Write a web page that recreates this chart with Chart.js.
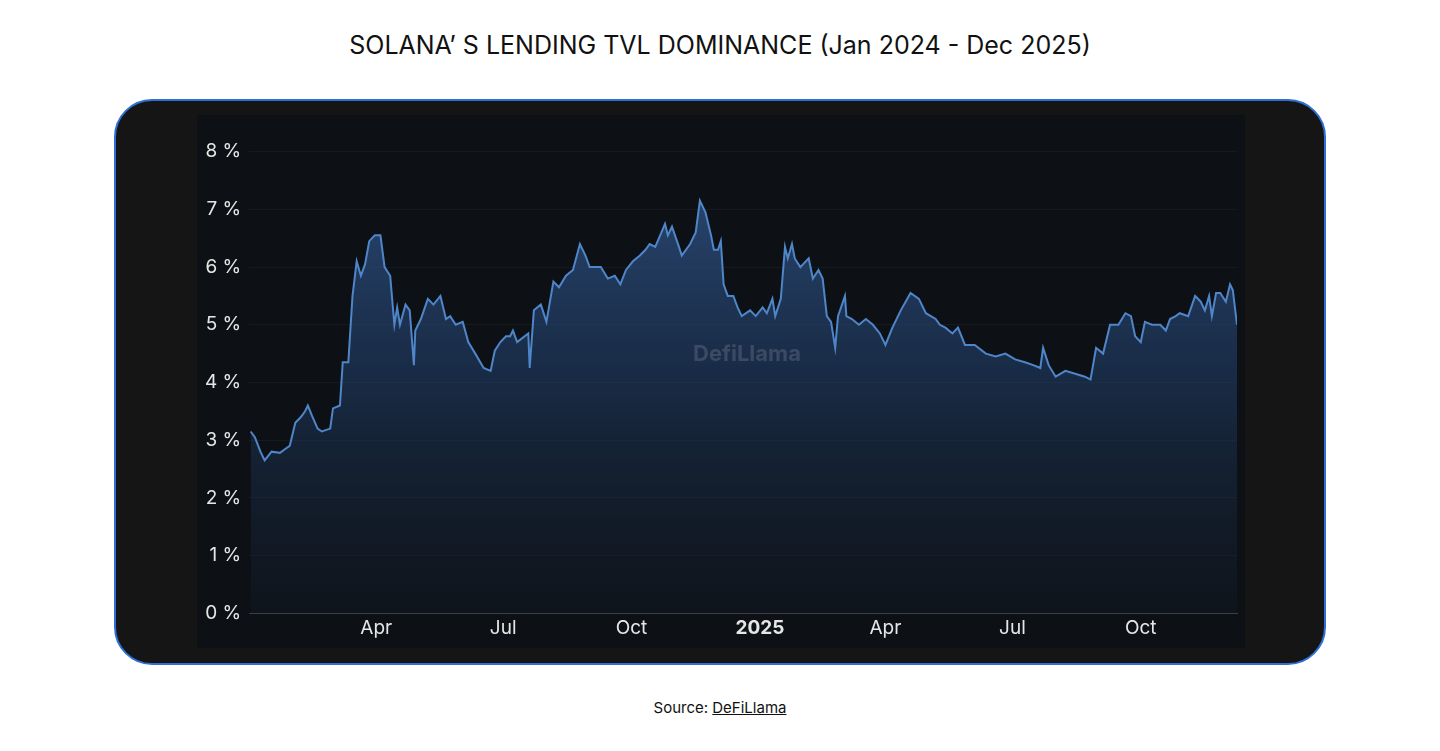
<!DOCTYPE html>
<html>
<head>
<meta charset="utf-8">
<script src="https://cdn.jsdelivr.net/npm/chart.js@4"></script>
<style>
  body { margin: 0; background: #fff; font-family: Inter, "Noto Sans", sans-serif; }
  #title { position: absolute; top: 30px; left: 0; width: 1440px; text-align: center; font-size: 25px; color: #111; }
  #box { position: absolute; left: 114px; top: 99px; width: 1208px; height: 562px; background: #151515; border: 2px solid #2f6fd6; border-radius: 38px; }
  #panel { position: absolute; left: 197px; top: 115px; width: 1048px; height: 533px; background: #0d1115; }
  #mark { position: absolute; left: 693px; top: 340px; font-size: 22px; font-weight: 700; color: rgba(120,130,145,0.35); }
  #source { position: absolute; top: 698px; left: 0; width: 1440px; text-align: center; font-size: 15px; color: #111; }
  #source span { text-decoration: underline; }
</style>
</head>
<body>
<div id="title">SOLANA’ S LENDING TVL DOMINANCE (Jan 2024 - Dec 2025)</div>
<div id="box"></div>
<div id="panel"><canvas id="chart" width="1048" height="533"></canvas></div>
<div id="mark">DefiLlama</div>
<div id="source">Source: <span>DeFiLlama</span></div>
<script>
// days since 1 Jan 2024
var days = [1,4,8,11,16,22,26,29,33,37,40,42,45,49,52,58,60,65,67,71,74,77,80,83,86,90,94,97,101,104,106,108,112,115,118,119,123,128,132,137,141,144,148,153,157,162,168,173,176,180,184,187,189,192,200,201,204,209,213,218,222,227,232,237,241,244,252,257,262,266,270,275,280,284,287,291,298,300,303,308,310,316,320,323,327,331,333,336,338,340,343,347,350,353,359,363,368,371,375,377,381,384,386,389,391,395,401,404,408,411,414,417,420,422,427,428,432,437,442,447,452,456,461,467,474,480,485,492,495,499,504,508,513,520,528,535,542,549,556,562,567,569,573,578,585,592,599,603,607,612,617,623,628,632,635,639,642,647,653,657,660,664,667,673,678,682,685,688,690,693,696,700,703,705,708];
var dominance = [3.15,3.05,2.8,2.65,2.8,2.78,2.85,2.9,3.3,3.4,3.5,3.6,3.42,3.2,3.15,3.2,3.55,3.6,4.35,4.35,5.5,6.1,5.85,6.05,6.45,6.55,6.55,6.0,5.85,5.0,5.3,5.0,5.35,5.25,4.3,4.9,5.1,5.45,5.35,5.5,5.1,5.15,5.0,5.05,4.7,4.5,4.25,4.2,4.55,4.7,4.8,4.8,4.9,4.7,4.85,4.25,5.25,5.35,5.05,5.75,5.65,5.85,5.95,6.4,6.2,6.0,6.0,5.8,5.85,5.7,5.95,6.1,6.2,6.3,6.4,6.35,6.75,6.55,6.7,6.35,6.2,6.4,6.6,7.15,6.95,6.55,6.3,6.3,6.45,5.7,5.5,5.5,5.3,5.15,5.25,5.15,5.3,5.2,5.45,5.15,5.45,6.35,6.15,6.4,6.15,6.0,6.15,5.8,5.95,5.8,5.15,5.05,4.6,5.15,5.5,5.15,5.1,5.0,5.1,5.0,4.85,4.65,4.95,5.25,5.55,5.45,5.2,5.1,5.0,4.95,4.85,4.95,4.65,4.65,4.5,4.45,4.5,4.4,4.35,4.3,4.25,4.6,4.3,4.1,4.2,4.15,4.1,4.05,4.6,4.5,5.0,5.0,5.2,5.15,4.8,4.7,5.05,5.0,5.0,4.9,5.1,5.15,5.2,5.15,5.5,5.4,5.25,5.5,5.15,5.55,5.55,5.4,5.7,5.6,5.0];
var tickDays = [91, 182, 274, 366, 456, 547, 639];
var tickLabels = ['Apr', 'Jul', 'Oct', '2025', 'Apr', 'Jul', 'Oct'];
var yTicks = [0, 1, 2, 3, 4, 5, 6, 7, 8];

var ctx = document.getElementById('chart');
var points = days.map(function (d, i) { return { x: d, y: dominance[i] }; });

var fillGrad = function (context) {
  var area = context.chart.chartArea;
  if (!area) return 'rgba(60,100,160,0.5)';
  var g = context.chart.ctx.createLinearGradient(0, area.top, 0, area.bottom);
  g.addColorStop(0, 'rgba(58,100,160,0.75)');
  g.addColorStop(0.5, 'rgba(35,65,110,0.55)');
  g.addColorStop(1, 'rgba(20,30,45,0.3)');
  return g;
};

new Chart(ctx, {
  type: 'line',
  data: {
    datasets: [{
      data: points,
      borderColor: '#4f86c9',
      borderWidth: 2,
      backgroundColor: fillGrad,
      fill: 'origin',
      pointRadius: 0,
      tension: 0
    }]
  },
  options: {
    responsive: false,
    animation: false,
    layout: { padding: { top: 10, right: 8, left: 0, bottom: 4 } },
    plugins: { legend: { display: false }, tooltip: { enabled: false } },
    scales: {
      x: {
        type: 'linear',
        min: 0,
        max: 708,
        afterBuildTicks: function (axis) { axis.ticks = tickDays.map(function (v) { return { value: v }; }); },
        ticks: {
          color: '#e6e6e6',
          font: function (c) { return { size: 19, family: 'Inter, sans-serif', weight: c.index === 3 ? 'bold' : 'normal' }; },
          maxRotation: 0,
          autoSkip: false,
          padding: 4,
          callback: function (v, i) { return tickLabels[i]; }
        },
        grid: { display: false, drawTicks: false },
        border: { color: '#3a3f47' }
      },
      y: {
        min: 0,
        max: 8.3,
        afterBuildTicks: function (axis) { axis.ticks = yTicks.map(function (v) { return { value: v }; }); },
        ticks: {
          color: '#e6e6e6',
          font: { size: 19, family: 'Inter, sans-serif' },
          padding: 8,
          callback: function (v) { return v + ' %'; }
        },
        grid: { color: 'rgba(255,255,255,0.04)', drawTicks: false },
        border: { display: false }
      }
    }
  }
});
</script>
</body>
</html>
